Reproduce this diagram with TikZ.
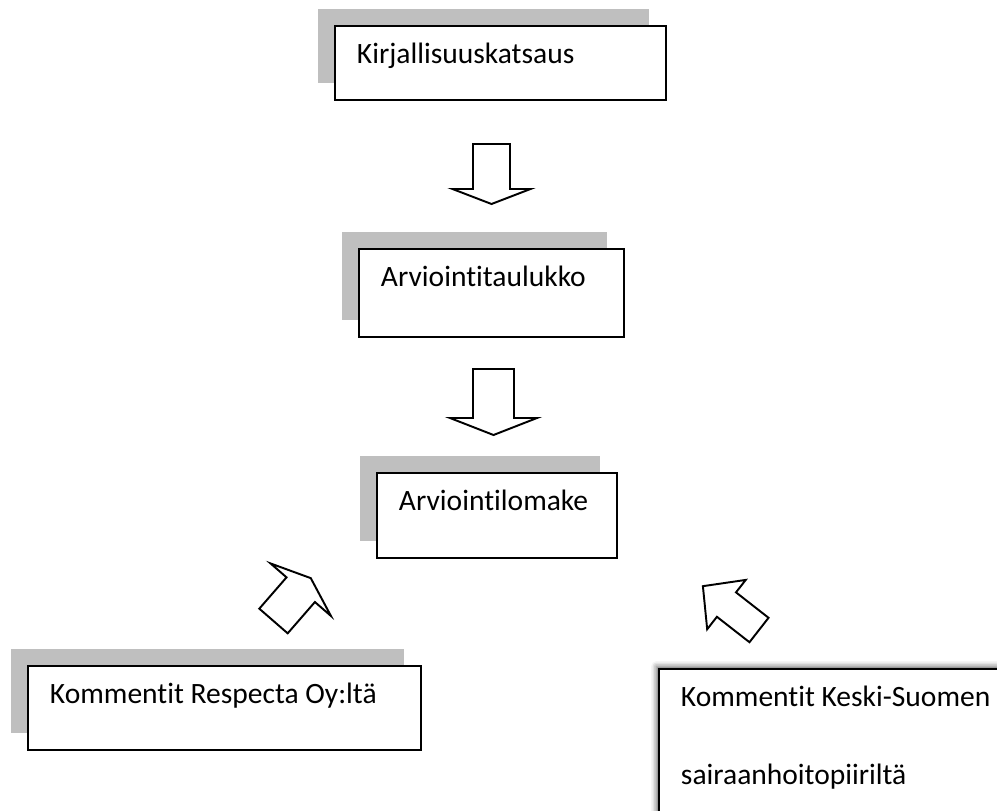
\documentclass[tikz,border=0pt]{standalone}
\usepackage{fontspec}
\setmainfont{Carlito}[Ligatures=CommonOff]
\usepackage{tikz}
\usetikzlibrary{shadows, shadows.blur}

\tikzset{
  box/.style={draw, rectangle, line width=1.1pt, fill=white, anchor=north west,
    inner xsep=0.44cm, inner ysep=0pt, text height=0.76cm, align=left,
    font=\fontsize{16.8}{20}\selectfont,
    execute at begin node={\spaceskip=0.226em\relax}},
  shadowbox/.style={box, drop shadow={shadow xshift=-0.33cm, shadow yshift=0.34cm, fill=black!25, opacity=1}},
  blurbox/.style={box, blur shadow={shadow xshift=-1.5pt, shadow yshift=1.5pt, shadow blur radius=3pt, shadow opacity=60}},
  arrowline/.style={draw, line width=1.1pt, fill=white},
  pics/hollowarrow/.style n args={4}{code={
    \draw[arrowline] (0,-#3) -- (#1,-#3) -- (#1,-#4) -- (#1+#2,0) -- (#1,#4) -- (#1,#3) -- (0,#3) -- cycle;
  }}
}

\begin{document}
\begin{tikzpicture}[x=0.02cm, y=-0.02cm]
    \useasboundingbox (0,0) rectangle (997,811);
    \clip (0,0) rectangle (997,811);

    % Boxes
    \node[shadowbox, text width=5.74cm, text depth=0.72cm] (lit) at (334,25) {Kirjallisuuskatsaus};
    \node[shadowbox, text width=4.42cm, text depth=1.0cm] (table) at (358,248) {Arviointitaulukko};
    \node[shadowbox, text width=3.92cm, text depth=0.94cm] (form) at (376,472) {Arviointilomake};
    \node[shadowbox, text width=6.98cm, text depth=0.92cm] (respecta) at (27,665) {Kommentit Respecta Oy:ltä};
    \node[blurbox, text width=7cm, text depth=2.6cm, font=\fontsize{16.8}{44}\selectfont] (kssp) at (658,668) {Kommentit Keski-Suomen\\sairaanhoitopiiriltä};

    % Block arrows
    \pic[rotate=-90] (down1) at (491.5,144) {hollowarrow={45}{15}{18.5}{39}};
    \pic[rotate=-90] (down2) at (493.5,369) {hollowarrow={49}{17}{20.5}{43.5}};
    \pic[rotate=49] (upright) at (273.5,621) {hollowarrow={41.5}{15.3}{18.8}{40}};
    \pic[rotate=142] (upleft) at (759,630) {hollowarrow={41.3}{29.9}{15.5}{31.3}};
\end{tikzpicture}
\end{document}
